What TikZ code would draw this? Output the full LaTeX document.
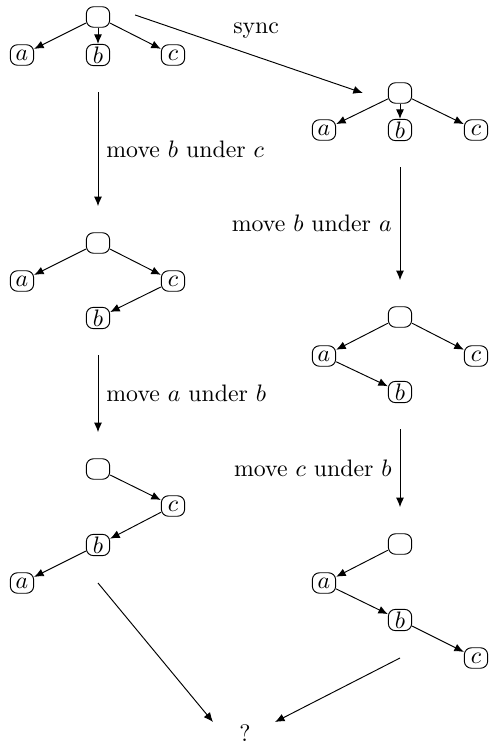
\documentclass[tikz,border=0pt]{standalone}
\usepackage{tikz}
\usetikzlibrary{arrows.meta}

\tikzset{
  tnode/.style={draw, rounded corners=3pt, minimum width=9.8pt, minimum height=8.6pt, inner sep=1pt},
  movearrow/.style={->, shorten <=11pt, shorten >=11pt}
}

\begin{document}
\begin{tikzpicture}[x=0.42pt, y=-0.42pt, >={Latex[length=4pt, width=3.4pt]}]
    \useasboundingbox (0,0) rectangle (490,745);

    % Tree 1: start
    \node[tnode] (r1) at (98,17) {};
    \node[tnode] (a1) at (22,55) {$a$};
    \node[tnode] (b1) at (98,55) {$b$};
    \node[tnode] (c1) at (173,55) {$c$};
    \draw[->] (r1) -- (a1);
    \draw[->] (r1) -- (b1);
    \draw[->] (r1) -- (c1);

    % Tree 2: synced copy
    \node[tnode] (r2) at (400,93) {};
    \node[tnode] (a2) at (324,130) {$a$};
    \node[tnode] (b2) at (400,130) {$b$};
    \node[tnode] (c2) at (476,130) {$c$};
    \draw[->] (r2) -- (a2);
    \draw[->] (r2) -- (b2);
    \draw[->] (r2) -- (c2);

    \draw[->] ([shift={(25,-2)}]r1.east) -- node[midway, above=3pt, xshift=3pt] {sync} ([shift={(-25,0)}]r2.west);

    % Tree 3
    \node[tnode] (r3) at (98,243) {};
    \node[tnode] (a3) at (22,281) {$a$};
    \node[tnode] (c3) at (173,281) {$c$};
    \node[tnode] (b3) at (98,318) {$b$};
    \draw[->] (r3) -- (a3);
    \draw[->] (r3) -- (c3);
    \draw[->] (c3) -- (b3);

    % Tree 4
    \node[tnode] (r4) at (400,317) {};
    \node[tnode] (a4) at (324,356) {$a$};
    \node[tnode] (c4) at (476,356) {$c$};
    \node[tnode] (b4) at (400,392) {$b$};
    \draw[->] (r4) -- (a4);
    \draw[->] (r4) -- (c4);
    \draw[->] (a4) -- (b4);

    % Tree 5
    \node[tnode] (r5) at (98,469) {};
    \node[tnode] (c5) at (173,506) {$c$};
    \node[tnode] (b5) at (98,545) {$b$};
    \node[tnode] (a5) at (22,583) {$a$};
    \draw[->] (r5) -- (c5);
    \draw[->] (c5) -- (b5);
    \draw[->] (b5) -- (a5);

    % Tree 6
    \node[tnode] (r6) at (400,544) {};
    \node[tnode] (a6) at (324,583) {$a$};
    \node[tnode] (b6) at (400,620) {$b$};
    \node[tnode] (c6) at (476,658) {$c$};
    \draw[->] (r6) -- (a6);
    \draw[->] (a6) -- (b6);
    \draw[->] (b6) -- (c6);

    % Moves
    \draw[movearrow] (b1) -- node[right] {move $b$ under $c$} (r3);
    \draw[movearrow] (b3) -- node[right] {move $a$ under $b$} (r5);
    \draw[movearrow] (b2) -- node[left] {move $b$ under $a$} (r4);
    \draw[movearrow] (b4) -- node[left] {move $c$ under $b$} (r6);

    % Result
    \node (q) at (245,733) {?};
    \coordinate (e5) at (98,583);
    \coordinate (e6) at (400,658);
    \draw[->] (e5) -- ([shift={(-32,-11)}]q.center);
    \draw[->] (e6) -- ([shift={(30,-11)}]q.center);
\end{tikzpicture}
\end{document}
